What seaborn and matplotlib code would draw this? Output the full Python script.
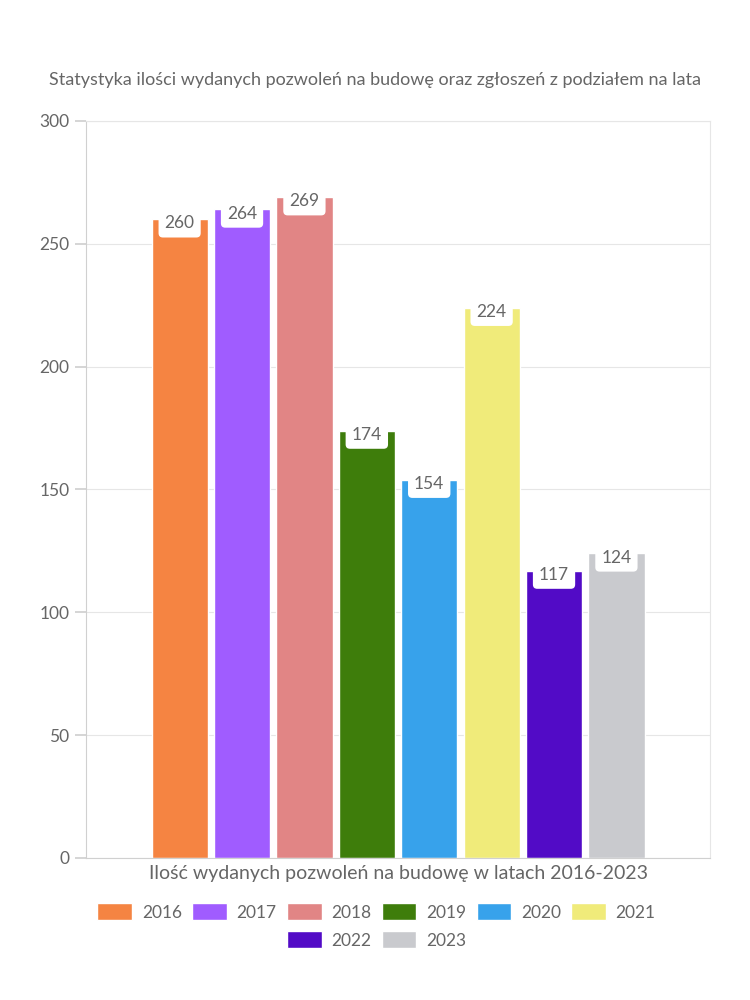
import matplotlib
matplotlib.use("Agg")
import matplotlib.pyplot as plt
import seaborn as sns
import pandas as pd

years = ["2016", "2017", "2018", "2019", "2020", "2021", "2022", "2023"]
values = [260, 264, 269, 174, 154, 224, 117, 124]
colors = ["#F58442", "#A05CFF", "#E18585", "#3E7D0B", "#37A2EB", "#F0EB7A", "#520BC6", "#C9CACE"]
category = ["Ilość wydanych pozwoleń na budowę w latach 2016-2023"] * len(years)
title = "Statystyka ilości wydanych pozwoleń na budowę oraz zgłoszeń z podziałem na lata"

sns.set_theme(style="white")
plt.rcParams['font.family'] = ['Lato', 'DejaVu Sans']
TXT = "#666666"
GRID = "#E6E6E6"

df = pd.DataFrame({"cat": category, "year": years, "value": values})

fig = plt.figure(figsize=(7.5, 10), dpi=100)
ax = fig.add_axes([0.1147, 0.142, 0.832, 0.737])

sns.barplot(data=df, x="cat", y="value", hue="year", palette=colors,
            width=0.8, gap=0.1, saturation=1, ax=ax, legend=True)

ax.set_ylim(0, 300)
ax.set_yticks([0, 50, 100, 150, 200, 250, 300])
ax.set_xlim(-0.5, 0.5)
ax.yaxis.grid(True, color=GRID, linewidth=0.8)
ax.set_axisbelow(True)
for s in ax.spines.values():
    s.set_visible(True)
    s.set_color(GRID)
    s.set_linewidth(0.8)
ax.spines['left'].set_color("#D0D0D0")
ax.spines['bottom'].set_color("#D0D0D0")
ax.tick_params(axis='y', length=8, color="#D0D0D0", labelsize=12.5, labelcolor=TXT, pad=4, left=True)
ax.tick_params(axis='x', length=0, labelbottom=False)
ax.set_ylabel("")
ax.set_xlabel(category[0], fontsize=14, color=TXT, labelpad=5)

for cont in ax.containers:
    for bar in cont:
        h = bar.get_height()
        xc = bar.get_x() + bar.get_width() / 2
        ax.annotate(f"{int(round(h))}", xy=(xc, h), xytext=(0, -3), textcoords="offset points",
                    ha="center", va="center", fontsize=12.5, color=TXT,
                    bbox=dict(boxstyle="round,pad=0.35,rounding_size=0.25", fc="white", ec="none"))

fig.text(0.5, 0.92, title, ha="center", va="center", fontsize=13, color=TXT)

handles, labels = ax.get_legend_handles_labels()
ax.get_legend().remove()
kw = dict(frameon=False, fontsize=12.5, labelcolor=TXT, handlelength=2.0, handleheight=1.1,
          handletextpad=0.55, columnspacing=0.6, borderaxespad=0)
leg1 = fig.legend(handles[:6], labels[:6], ncol=6, loc="center", bbox_to_anchor=(0.502, 0.088), **kw)
leg2 = fig.legend(handles[6:], labels[6:], ncol=2, loc="center", bbox_to_anchor=(0.502, 0.060), **kw)

fig.savefig("out.png", dpi=100, facecolor="white")
